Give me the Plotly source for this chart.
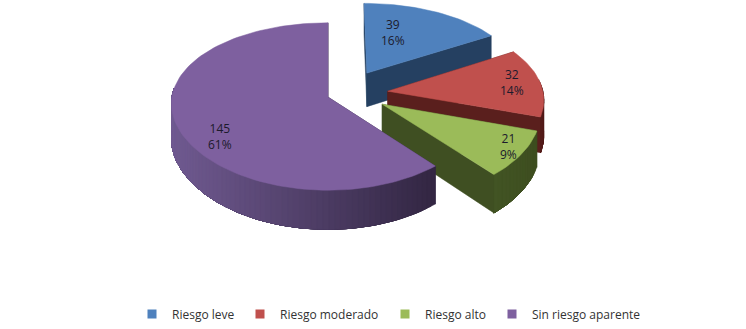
import math
import plotly.graph_objects as go

categories = ["Riesgo leve", "Riesgo moderado", "Riesgo alto", "Sin riesgo aparente"]
values = [39, 32, 21, 145]

# styles: top colour, side colour at left of the wall, side colour at right of the wall
top_colors = ["#4f81bd", "#c0504d", "#9bbb59", "#7e609f"]
wall_left = [(37, 64, 97), (92, 32, 30), (66, 84, 36), (112, 90, 145)]
wall_right = [(37, 64, 97), (80, 26, 24), (62, 78, 32), (50, 38, 66)]
cut_colors = ["#254061", "#5a1f1d", "#3f4f22", "#332743"]
# exploded offset of each slice on the disc (radius units)
explode = [(0.255, 0.30), (0.385, 0.072), (0.345, -0.085), (0.0, 0.0)]
label_px = [(393, 33), (512, 83), (508, 148), (220, 138)]
legend_px = [143, 251, 396, 503]

W, H = 746, 329
CX, CY, RX, RY, KX, KY, DEPTH = 328, 98, 156, 83.4, 0.08, 0.1125, 35


def project(X, V, Z=0.0):
    sx = 1.0 / (1.0 + KX * V)
    sy = 1.0 / (1.0 + KY * V)
    return CX + RX * X * sx, CY - RY * V * sy + DEPTH * sy * Z


def poly(points, color, name):
    xs = [p[0] for p in points] + [points[0][0]]
    ys = [p[1] for p in points] + [points[0][1]]
    return go.Scatter(x=xs, y=ys, mode="lines", fill="toself", fillcolor=color,
                      line=dict(color=color, width=0.5), hoverinfo="skip",
                      showlegend=False, name=name)


def disc(off, deg, r=1.0):
    t = math.radians(deg)
    return off[0] + r * math.sin(t), off[1] + r * math.cos(t)


total = sum(values)
fig = go.Figure()
start = 0.0
for i, (cat, v) in enumerate(zip(categories, values)):
    end = start + 360.0 * v / total
    off = explode[i]
    n = max(12, int((end - start) / 2.0))
    angles = [start + (end - start) * j / n for j in range(n + 1)]
    apex = off

    # flat cut faces
    for a in (start, end):
        p = disc(off, a)
        fig.add_trace(poly([project(*apex), project(*p), project(*p, 1), project(*apex, 1)],
                           cut_colors[i], cat))
    # outer wall, shaded from left to right; each step paints over the rest so no seams show
    seg = [a for a in angles if 80 <= a <= 276]
    if len(seg) > 1:
        pts = [project(*disc(off, a)) for a in seg]
        xmin, xmax = min(p[0] for p in pts), max(p[0] for p in pts)
        for j in range(len(seg) - 1):
            rest = seg[j:]
            q = [project(*disc(off, a)) for a in rest] + [project(*disc(off, a), 1) for a in reversed(rest)]
            f = ((pts[j][0] + pts[j + 1][0]) / 2 - xmin) / max(xmax - xmin, 1)
            c = [round(wall_left[i][k] + (wall_right[i][k] - wall_left[i][k]) * f) for k in range(3)]
            fig.add_trace(poly(q, "rgb(%d,%d,%d)" % tuple(c), cat))
    # top face
    outline = [project(*apex)] + [project(*disc(off, a)) for a in angles]
    fig.add_trace(poly(outline, top_colors[i], cat))
    start = end

annotations = []
for i, v in enumerate(values):
    annotations.append(dict(x=label_px[i][0], y=label_px[i][1], xref="x", yref="y",
                            text="%d<br>%d%%" % (v, round(100 * v / total)), showarrow=False,
                            font=dict(family="Open Sans", size=12, color="#1c1a2c")))

legends = {}
for i, cat in enumerate(categories):
    key = "legend" if i == 0 else "legend%d" % (i + 1)
    fig.add_trace(go.Scatter(x=[None], y=[None], mode="markers", name=cat, legend=key,
                             marker=dict(symbol="square", size=9, color=top_colors[i])))
    legends[key] = dict(x=legend_px[i] / W, y=1 - 317 / H, xanchor="left", yanchor="middle",
                        indentation=-11,
                        bgcolor="rgba(0,0,0,0)", font=dict(family="Open Sans", size=12, color="#333333"),
                        itemclick=False, itemdoubleclick=False)

fig.update_layout(width=W, height=H, margin=dict(l=0, r=0, t=0, b=0), autosize=False,
                  paper_bgcolor="white", plot_bgcolor="white", annotations=annotations,
                  xaxis=dict(range=[0, W], visible=False, fixedrange=True),
                  yaxis=dict(range=[H, 0], visible=False, fixedrange=True),
                  **legends)
fig.write_html("out.html", config=dict(displayModeBar=False),
               post_script="document.body.style.margin='0';document.documentElement.style.overflow='hidden';")
